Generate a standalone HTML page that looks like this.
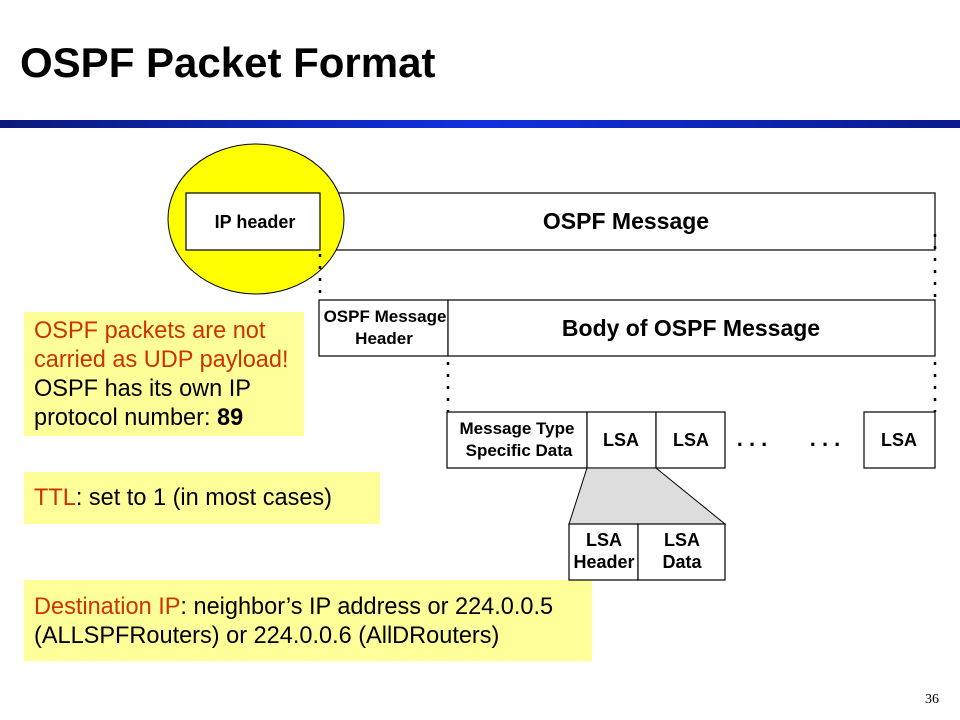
<!DOCTYPE html>
<html><head><style>
body{margin:0;width:960px;height:720px;background:#fff;position:relative;overflow:hidden;font-family:"Liberation Sans",sans-serif}
.t{position:absolute;white-space:nowrap}
.y{position:absolute;background:#ffff99}
.r{color:#cc3300}
.tx{font-size:24px;line-height:29px;color:#000;transform-origin:0 0;transform:scaleX(0.98)}
</style></head><body>
<div class="t" style="left:20px;top:39px;font-size:42px;font-weight:bold">OSPF Packet Format</div>
<div style="position:absolute;left:0;top:120px;width:960px;height:8px;background:linear-gradient(90deg,#0a1a7a,#1030e0 50%,#0a1a8a)"></div>
<div class="y" style="left:24px;top:312px;width:280px;height:124px"></div>
<div class="t tx" style="left:34px;top:316px"><span class="r">OSPF packets are not</span><br><span class="r">carried as UDP payload!</span><br>OSPF has its own IP<br>protocol number: <b>89</b></div>
<div class="y" style="left:24px;top:472px;width:356px;height:52px"></div>
<div class="t tx" style="left:34px;top:483px"><span class="r">TTL</span>: set to 1 (in most cases)</div>
<div class="y" style="left:24px;top:580px;width:568px;height:81px"></div>
<div class="t tx" style="left:34px;top:592px"><span class="r">Destination IP</span>: neighbor’s IP address or 224.0.0.5<br>(ALLSPFRouters) or 224.0.0.6 (AllDRouters)</div>
<svg width="960" height="720" style="position:absolute;left:0;top:0" font-family="Liberation Sans,sans-serif" font-weight="bold" text-anchor="middle">
<rect x="320" y="193" width="615" height="57" fill="#fff" stroke="#000" stroke-width="1.2"/>
<ellipse cx="256" cy="219" rx="88" ry="75" fill="#ffff00" stroke="#000"/>
<g fill="#fff" stroke="#000" stroke-width="1.2">
<rect x="186" y="193" width="134" height="57"/>
<rect x="319" y="300" width="129" height="56"/>
<rect x="448" y="300" width="487" height="56"/>
<rect x="447" y="412" width="140" height="56"/>
<rect x="587" y="412" width="69" height="56"/>
<rect x="656" y="412" width="69" height="56"/>
<rect x="864" y="412" width="71" height="56"/>
</g>
<polygon points="587,468 656,468 725,524 569,524" fill="#ddd" stroke="#000"/>
<g fill="#fff" stroke="#000" stroke-width="1.2">
<rect x="569" y="524" width="69" height="56"/>
<rect x="638" y="524" width="87" height="56"/>
</g>
<g stroke="#000" stroke-width="2.5" stroke-dasharray="3,9">
<line x1="320" y1="254" x2="320" y2="300"/><line x1="935" y1="234" x2="935" y2="300"/>
<line x1="448" y1="362" x2="448" y2="412"/><line x1="935" y1="362" x2="935" y2="412"/>
</g>
<g font-size="18">
<text x="255" y="228">IP header</text>
<text x="385" y="322" font-size="17">OSPF Message</text><text x="384" y="344" font-size="17">Header</text>
<text x="517" y="434" font-size="17">Message Type</text><text x="519" y="456" font-size="17">Specific Data</text>
<text x="621" y="446">LSA</text><text x="691" y="446">LSA</text><text x="899" y="446">LSA</text>
<text x="604" y="546">LSA</text><text x="604" y="568">Header</text>
<text x="682" y="546">LSA</text><text x="682" y="568">Data</text>
</g>
<text x="626" y="229" font-size="23">OSPF Message</text>
<text x="691" y="336" font-size="23">Body of OSPF Message</text>
<text x="752" y="446" font-size="22">. . .</text><text x="825" y="446" font-size="22">. . .</text>
<text x="932" y="703" font-size="14" font-weight="normal" font-family="Liberation Serif,serif">36</text>
</svg>
</body></html>
